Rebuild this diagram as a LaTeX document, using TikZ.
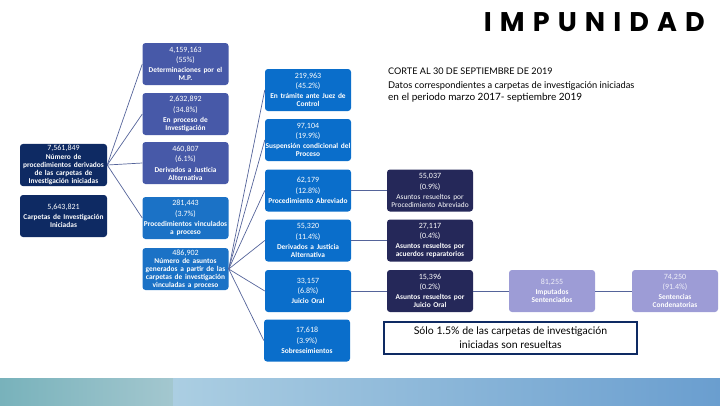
\documentclass[tikz,border=0pt]{standalone}
\usepackage{fontspec}
\setmainfont{Lato}
\newfontfamily\boxfont{Carlito}
\newfontfamily\headfont[LetterSpace=30]{Poppins}
\definecolor{navyL}{HTML}{0E2A63}
\definecolor{indigoC}{HTML}{4759A8}
\definecolor{blueC}{HTML}{1B72C6}
\definecolor{blueD}{HTML}{0A6ECB}
\definecolor{navyE}{HTML}{252859}
\definecolor{lavF}{HTML}{9D9CD6}
\definecolor{lineC}{HTML}{55649A}
\definecolor{bandA}{HTML}{78B2BB}
\definecolor{bandB}{HTML}{A3C7CF}
\definecolor{bandC}{HTML}{ABCEE2}
\definecolor{bandD}{HTML}{6A9ECF}
\newcommand\boxtext[3]{#1\\[2.2pt]#2\\[2.2pt]{\fontsize{7.4}{8}\selectfont\bfseries #3\par}}
\newcommand\lbl[1]{{\fontsize{7.4}{8}\selectfont\bfseries #1\par}}
\begin{document}
\begin{tikzpicture}[x=1pt,y=-1pt,
  databox/.style={rounded corners=3pt, minimum width=86pt, minimum height=42pt,
    text width=86pt, align=center, inner xsep=0pt, inner ysep=1pt, text=white,
    font=\boxfont\fontsize{8}{8.2}\selectfont},
  leftbox/.style={databox, fill=navyL, minimum width=87pt, text width=87pt},
  cbox/.style={databox, fill=indigoC},
  cboxb/.style={databox, fill=blueC},
  dbox/.style={databox, fill=blueD},
  ebox/.style={databox, fill=navyE},
  fbox/.style={databox, fill=lavF},
  link/.style={draw=lineC, line width=0.7pt}]
\useasboundingbox (0,0) rectangle (720,405);
% bottom band
\shade[left color=bandA, right color=bandB] (0,378) rectangle (173,405);
\shade[left color=bandC, right color=bandD] (173,378) rectangle (720,405);
% header
\node[anchor=east, inner sep=0] (title) at (705,22) {\headfont\bfseries\fontsize{27}{27}\selectfont IMPUNIDAD};
\node[anchor=west, inner sep=0] (corte) at (388,71) {\fontsize{9.1}{11}\selectfont CORTE AL 30 DE SEPTIEMBRE DE 2019};
\node[anchor=north west, inner sep=0, align=left] (datos) at (388,81) {\fontsize{9.3}{12.5}\selectfont Datos correspondientes a carpetas de investigación iniciadas\\en el periodo marzo 2017- septiembre 2019};
% left column
\node[leftbox] (a) at (63.5,165) {7,561,849\\[1.4pt]\lbl{Número de\\procedimientos derivados\\de las carpetas de\\Investigación iniciadas}};
\node[leftbox] (b) at (63.5,216) {5,643,821\\[2.2pt]\lbl{Carpetas de Investigación\\Iniciadas}};
% column 2
\node[cbox] (c1) at (185.5,64) {\boxtext{4,159,163}{(55\%)}{Determinaciones por el\\M.P.}};
\node[cbox] (c2) at (185.5,114) {\boxtext{2,632,892}{(34.8\%)}{En proceso de\\Investigación}};
\node[cbox] (c3) at (185.5,163) {\boxtext{460,807}{(6.1\%)}{Derivados a Justicia\\Alternativa}};
\node[cboxb] (c4) at (185.5,218) {\boxtext{281,443}{(3.7\%)}{Procedimientos vinculados\\a proceso}};
\node[cboxb] (c5) at (185.5,269) {486,902\\[0.3pt]\lbl{Número de asuntos\\generados a partir de las\\carpetas de investigación\\vinculadas a proceso}};
% column 3
\node[dbox] (d1) at (308,90) {\boxtext{219,963}{(45.2\%)}{En trámite ante Juez de\\Control}};
\node[dbox] (d2) at (308,140) {\boxtext{97,104}{(19.9\%)}{Suspensión condicional del\\Proceso}};
\node[dbox] (d3) at (308,190.5) {\boxtext{62,179}{(12.8\%)}{Procedimiento Abreviado}};
\node[dbox] (d4) at (308,240.5) {\boxtext{55,320}{(11.4\%)}{Derivados a Justicia\\Alternativa}};
\node[dbox] (d5) at (308,291) {\boxtext{33,157}{(6.8\%)}{Juicio Oral}};
\node[dbox] (d6) at (307,340.5) {\boxtext{17,618}{(3.9\%)}{Sobreseimientos}};
% column 4
\node[ebox] (e1) at (430,190.5) {55,037\\[2.2pt](0.9\%)\\[2.2pt]{\fontsize{7.4}{8}\selectfont Asuntos resueltos por\\Procedimiento Abreviado\par}};
\node[ebox] (e2) at (430,240.5) {\boxtext{27,117}{(0.4\%)}{Asuntos resueltos por\\acuerdos reparatorios}};
\node[ebox] (e3) at (430,291) {\boxtext{15,396}{(0.2\%)}{Asuntos resueltos por\\Juicio Oral}};
% columns 5,6
\node[fbox] (f) at (552,291) {{\color{white!85!lavF}81,255}\\[2.2pt]\lbl{Imputados\\Sentenciados}};
\node[fbox] (g) at (675,291) {{\color{white!85!lavF}74,250}\\[2.2pt]{\color{white!85!lavF}(91.4\%)}\\[2.2pt]\lbl{Sentencias\\Condenatorias}};
% callout
\node[draw=navyL, line width=2pt, minimum width=253pt, minimum height=32pt, align=center, inner sep=1pt,
  font=\fontsize{10.5}{14}\selectfont] (call) at (510.5,338) {Sólo 1.5\% de las carpetas de investigación\\iniciadas son resueltas};
% connectors
\foreach \t in {c1,c2,c3,c4} \draw[link] (a.east) -- (\t.west);
\foreach \t in {d1,d2,d3,d4,d5,d6} \draw[link] (c5.east) -- (\t.west);
\draw[link] (d3) -- (e1);
\draw[link] (d4) -- (e2);
\draw[link] (d5) -- (e3);
\draw[link] (e3) -- (f);
\draw[link] (f) -- (g);
\end{tikzpicture}
\end{document}
